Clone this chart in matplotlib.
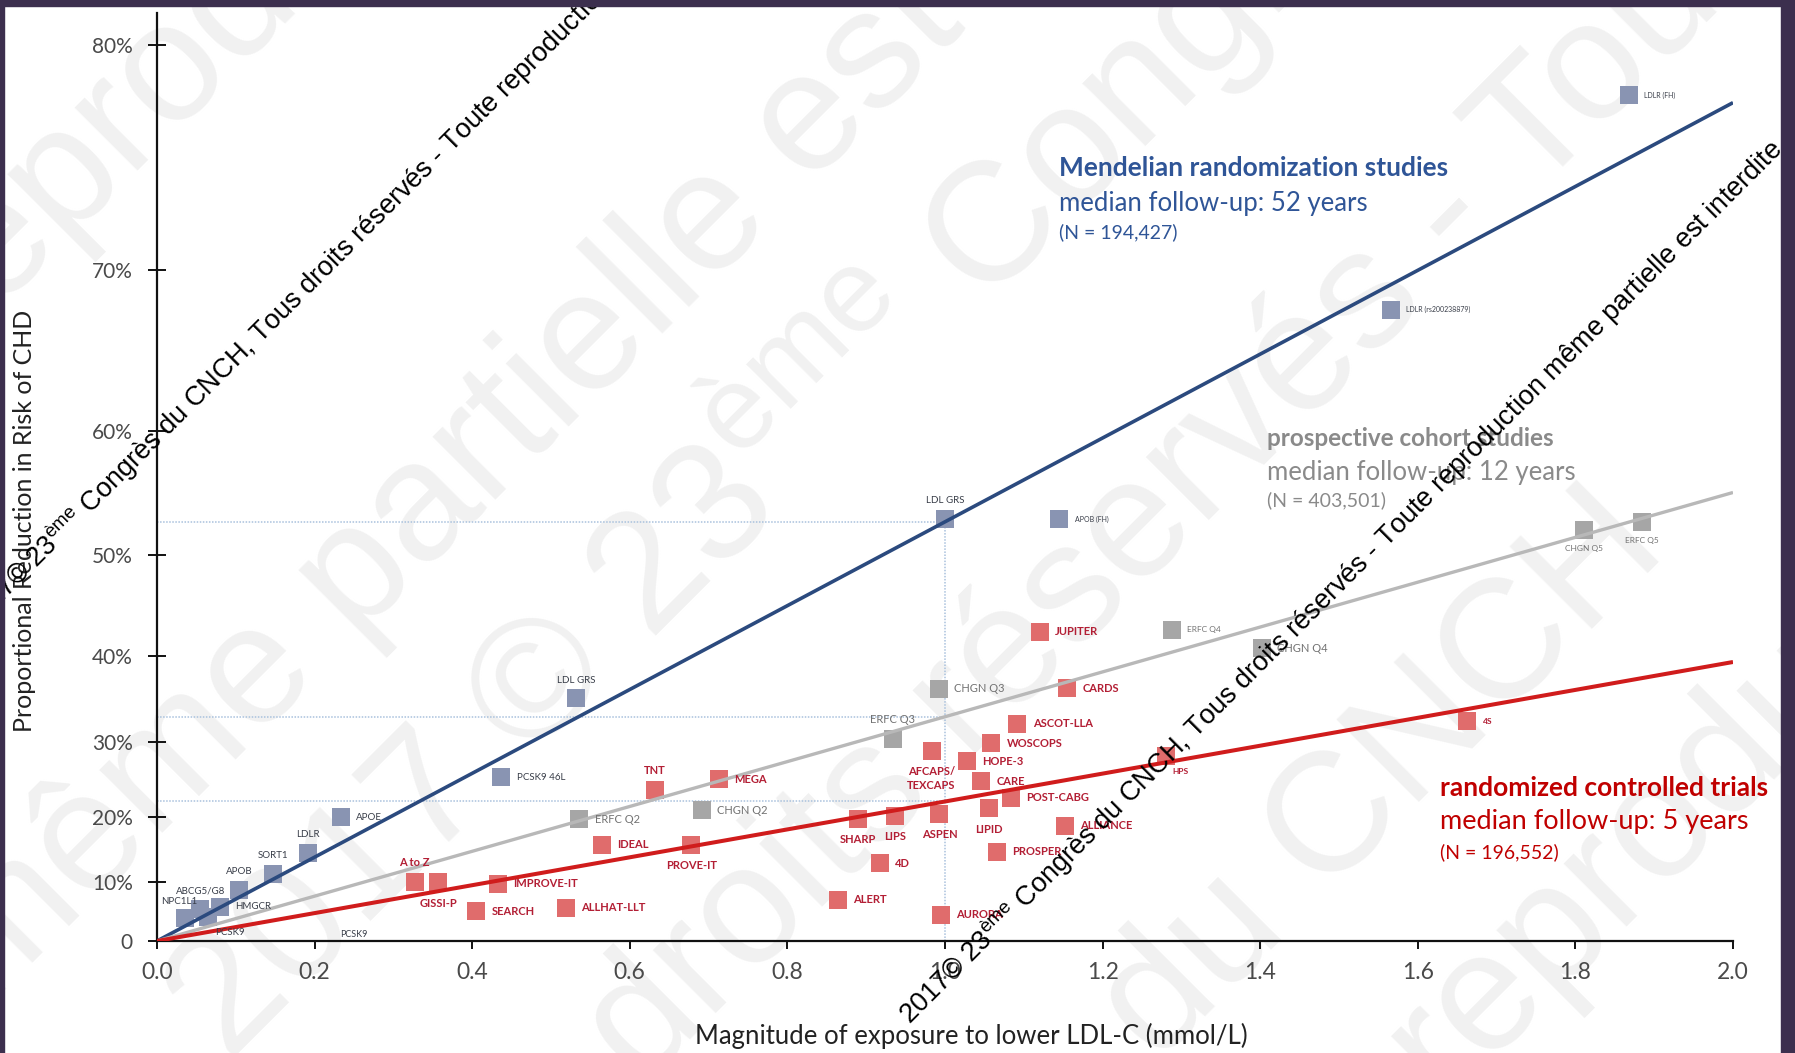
import numpy as np
import matplotlib.pyplot as plt
from matplotlib.patches import Rectangle

plt.rcParams['mathtext.fontset'] = 'custom'
plt.rcParams['mathtext.rm'] = 'Liberation Sans'
plt.rcParams['font.family'] = ['Lato', 'DejaVu Sans']

W, H = 1795, 1053

# Mendelian randomization studies (LDL-C lowering in mmol/L, proportional risk reduction)
mr_names = ['NPC1L1', 'ABCG5/G8', 'PCSK9', 'HMGCR', 'APOB', 'SORT1', 'LDLR', 'APOE',
            'PCSK9 46L', 'LDL GRS', 'LDL GRS', 'APOB (FH)', 'LDLR (rs200238879)', 'LDLR (FH)']
mr_x = [0.035, 0.055, 0.065, 0.080, 0.104, 0.147, 0.192, 0.233, 0.437, 0.532, 1.000, 1.145, 1.566, 1.868]
mr_y = [0.040, 0.055, 0.043, 0.060, 0.088, 0.114, 0.146, 0.199, 0.255, 0.353, 0.531, 0.531, 0.678, 0.781]

# prospective cohort studies
co_names = ['ERFC Q2', 'CHGN Q2', 'ERFC Q3', 'CHGN Q3', 'ERFC Q4', 'CHGN Q4', 'CHGN Q5', 'ERFC Q5']
co_x = [0.536, 0.691, 0.934, 0.992, 1.288, 1.402, 1.811, 1.884]
co_y = [0.196, 0.209, 0.304, 0.364, 0.428, 0.409, 0.522, 0.529]

# randomized controlled trials
rct_names = ['A to Z', 'GISSI-P', 'SEARCH', 'IMPROVE-IT', 'ALLHAT-LLT', 'IDEAL', 'TNT', 'PROVE-IT',
             'MEGA', 'ALERT', 'SHARP', '4D', 'LIPS', 'AFCAPS/\nTEXCAPS', 'ASPEN', 'AURORA', 'HOPE-3',
             'CARE', 'WOSCOPS', 'LIPID', 'PROSPER', 'POST-CABG', 'ASCOT-LLA', 'JUPITER', 'ALLIANCE',
             'CARDS', 'HPS', '4S']
rct_x = [0.327, 0.357, 0.405, 0.433, 0.519, 0.565, 0.632, 0.678, 0.713, 0.864, 0.889, 0.917, 0.937,
         0.983, 0.993, 0.995, 1.028, 1.046, 1.059, 1.056, 1.066, 1.084, 1.092, 1.120, 1.152, 1.155,
         1.280, 1.663]
rct_y = [0.100, 0.100, 0.052, 0.098, 0.058, 0.159, 0.238, 0.159, 0.252, 0.071, 0.197, 0.130, 0.201,
         0.289, 0.204, 0.046, 0.276, 0.249, 0.299, 0.212, 0.148, 0.227, 0.323, 0.426, 0.187, 0.365,
         0.282, 0.326]

# fitted lines: risk reduction at 1 mmol/L and at 2 mmol/L
line_at_1 = [0.529, 0.331, 0.222]
line_at_2 = [0.778, 0.553, 0.394]

y_ticks = [0, 0.1, 0.2, 0.3, 0.4, 0.5, 0.6, 0.7, 0.8]
y_labels = ['0', '10%', '20%', '30%', '40%', '50%', '60%', '70%', '80%']
x_ticks = [0.0, 0.2, 0.4, 0.6, 0.8, 1.0, 1.2, 1.4, 1.6, 1.8, 2.0]

# where each label sits relative to its square
mr_place = ['al', 'a', 'br', 'r', 'a', 'a', 'a', 'r', 'r', 'a', 'a', 'r', 'r', 'r']
co_place = ['r', 'r', 'a', 'r', 'r', 'r', 'b', 'b']
rct_place = ['a', 'b', 'r', 'r', 'r', 'r', 'a', 'b', 'r', 'r', 'b', 'r', 'b', 'b', 'b', 'r', 'r',
             'r', 'r', 'b', 'r', 'r', 'r', 'r', 'r', 'r', 'br', 'r']
small_labels = {'LDLR (FH)', 'LDLR (rs200238879)', 'APOB (FH)', 'HPS', '4S', 'ERFC Q4',
                'CHGN Q5', 'ERFC Q5'}


def fwd(r):
    return -np.log(1 - np.clip(r, None, 0.9999))


def inv(t):
    return 1 - np.exp(-t)


def px(x, y):
    return x / W, 1 - y / H


fig = plt.figure(figsize=(W / 100, H / 100), dpi=100)
ax = fig.add_axes([157 / W, (H - 941) / H, 1576 / W, 928 / H])
ax.set_yscale('function', functions=(fwd, inv))
ax.set_xlim(0, 2.0)
ax.set_ylim(0, 0.811)

# faint background watermark, behind the axes
wm_big = [('reproduction', -40, 300), ('même partielle est', -10, 880),
          ('2017 © 23$^{\\mathrm{ème}}$ Congrès', 200, 930), ('droits réservés - Toute', 560, 950),
          ('du CNCH', 1010, 930), ('reproduction', 1260, 960)]
for txt, sx, sy in wm_big:
    fig.text(*px(sx * 1.1448, sy * 1.1448), txt, fontsize=122, color='#f1f1f1',
             family='Liberation Sans', rotation=45, rotation_mode='anchor',
             ha='left', va='baseline', zorder=-5)

ax.patch.set_alpha(0)
for s in ['top', 'right']:
    ax.spines[s].set_visible(False)
for s in ['left', 'bottom']:
    ax.spines[s].set_linewidth(1.6)
    ax.spines[s].set_color('#111111')

# dotted reading guides at 1 mmol/L
guide = '#a9c1dd'
for v in line_at_1:
    ax.plot([0, 1.0], [v, v], ls=(0, (1, 1)), lw=1.1, color=guide, zorder=1)
ax.plot([1.0, 1.0], [0, line_at_1[0]], ls=(0, (1, 1)), lw=1.1, color=guide, zorder=1)

sq = 185
ax.scatter(mr_x, mr_y, marker='s', s=sq, color='#8994b2', lw=0, zorder=2, clip_on=False)
ax.scatter(co_x, co_y, marker='s', s=sq, color='#a6a6a6', lw=0, zorder=2, clip_on=False)
ax.scatter(rct_x, rct_y, marker='s', s=sq, color='#e06c6c', lw=0, zorder=2, clip_on=False)

line_cols = ['#2b4a7e', '#b8b8b8', '#d01c1c']
line_w = [2.6, 2.4, 2.9]
for end, c, w in zip(line_at_2, line_cols, line_w):
    ax.plot([0, 2.0], [0, end], color=c, lw=w, zorder=3, solid_capstyle='butt')

offsets = {'r': ((11, 0), 'left', 'center'), 'a': ((0, 10), 'center', 'bottom'),
           'b': ((0, -11), 'center', 'top'), 'br': ((5, -8), 'left', 'top'),
           'al': ((-4, 9), 'center', 'bottom')}
narrow = ['Liberation Sans Narrow', 'Lato']


def label_points(names, xs, ys, places, color, size, weight):
    for n, x, y, p in zip(names, xs, ys, places):
        off, ha, va = offsets[p]
        fs = size - 2 if n in small_labels else size
        ax.annotate(n, (x, y), xytext=off, textcoords='offset points', ha=ha, va=va,
                    fontsize=fs, color=color, fontweight=weight, family=narrow,
                    linespacing=1.3, zorder=4, annotation_clip=False)


label_points(mr_names, mr_x, mr_y, mr_place, '#383d48', 7, 'normal')
label_points(co_names, co_x, co_y, co_place, '#727272', 8, 'normal')
label_points(rct_names, rct_x, rct_y, rct_place, '#b31f35', 8, 'bold')
ax.text(0.25, 0.012, 'PCSK9', fontsize=6.5, color='#383d48', family=narrow, ha='center', va='center')

ax.set_yticks(y_ticks)
ax.set_yticklabels(y_labels)
ax.set_xticks(x_ticks)
ax.set_xticklabels(['%.1f' % t for t in x_ticks])
ax.minorticks_off()
ax.tick_params(axis='y', direction='inout', length=13, width=1.4, pad=11, labelsize=15,
               labelcolor='#4a4a4a', color='#111111')
ax.tick_params(axis='x', direction='out', length=6, width=1.4, pad=9, labelsize=16.5,
               labelcolor='#4a4a4a', color='#111111')

fig.text(*px(25, 521), 'Proportional Reduction in Risk of CHD', rotation=90, ha='center',
         va='center', fontsize=18, color='#222222')
fig.text(*px(971, 1036), 'Magnitude of exposure to lower LDL-C (mmol/L)', ha='center',
         va='center', fontsize=18.5, color='#222222')

# study group annotations
groups = [
    (1059, [168, 203, 232], '#2f5597', [19, 18.5, 14],
     ['Mendelian randomization studies', 'median follow-up: 52 years', '(N = 194,427)']),
    (1267, [438, 472, 500], '#8a8a8a', [17.5, 18.5, 14],
     ['prospective cohort studies', 'median follow-up: 12 years', '(N = 403,501)']),
    (1440, [788, 822, 852], '#c00000', [19, 19.5, 14],
     ['randomized controlled trials', 'median follow-up: 5 years', '(N = 196,552)']),
]
for gx, gys, col, sizes, lines in groups:
    for i, (gy, fs, t) in enumerate(zip(gys, sizes, lines)):
        fig.text(*px(gx, gy), t, color=col, ha='left', va='center',
                 fontsize=fs, fontweight='bold' if i == 0 else 'normal', zorder=5)

# copyright stamps
stamp = '2017© 23$^{\\mathrm{ème}}$ Congrès du CNCH, Tous droits réservés - Toute reproduction même partielle est interdite'
for sx, sy in [(-25, 630), (910, 1025)]:
    fig.text(*px(sx, sy), stamp, fontsize=19.5, color='black', family='Liberation Sans',
             rotation=45, rotation_mode='anchor', ha='left', va='baseline', zorder=20)

frame = '#3c2f4e'
fig.add_artist(Rectangle((0, 1 - 6 / H), 1, 6 / H, transform=fig.transFigure, color=frame, zorder=100))
fig.add_artist(Rectangle((0, 0), 4 / W, 1, transform=fig.transFigure, color=frame, zorder=100))
fig.add_artist(Rectangle((1781 / W, 0), 14 / W, 1, transform=fig.transFigure, color=frame, zorder=100))

fig.savefig('out.png', dpi=100)
